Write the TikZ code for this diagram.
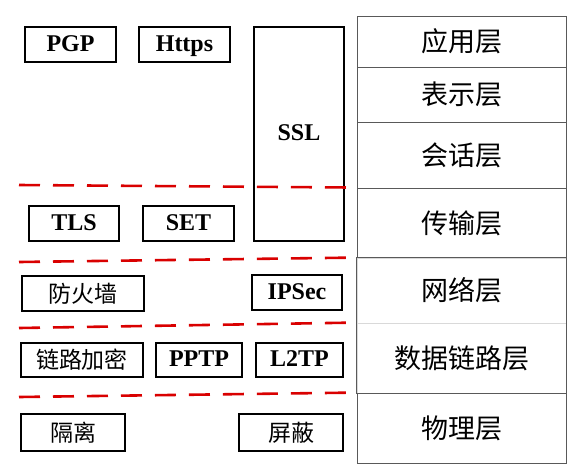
\documentclass[tikz,border=0pt]{standalone}
\usepackage{fontspec}
\setmainfont{Liberation Serif}
\newfontfamily\cjk{Noto Sans CJK SC}
\begin{document}
\begin{tikzpicture}[x=1pt,y=-1pt,
	layer/.style={draw=black!65, line width=0.9pt, minimum width=209pt,
		inner sep=0pt, text height=23pt, text depth=3pt,
		font=\cjk\fontsize{27}{30}\selectfont},
	proto/.style={draw, line width=1.3pt, inner sep=0pt,
		text height=16pt, text depth=3pt,
		font=\bfseries\fontsize{24}{26}\selectfont},
	cnbox/.style={draw, line width=1.3pt, inner sep=0pt,
		text height=20pt, text depth=3pt,
		font=\cjk\fontsize{23}{26}\selectfont},
	sep/.style={red!85!black, line width=2.6pt, dash pattern=on 21pt off 13pt}]
				\useasboundingbox (0,0) rectangle (574,475);
				% OSI stack
				\node[layer, minimum height=51pt] (app) at (461.5,41.5) {应用层};
				\node[layer, minimum height=55pt] (pres) at (461.5,94.5) {表示层};
				\node[layer, minimum height=66pt] (sess) at (461.5,155) {会话层};
				\node[layer, minimum height=70pt] (trans) at (461.5,223) {传输层};
				\node[layer, draw=black!15, minimum height=65pt]
				(net) at (461.5,290.5) {网络层};
				\node[layer, draw=black!15, minimum height=70pt]
				(link) at (461.5,358) {数据链路层};
				\node[layer, minimum height=70pt] (phy) at (461.5,428) {物理层};
				\draw[black!65, line width=0.9pt] (net.north west) rectangle (link.south east);
				% protocols
				\node[proto, minimum width=91pt, minimum height=35pt]
				(pgp) at (70.5,44.5) {PGP};
				\node[proto, minimum width=91pt, minimum height=35pt]
				(https) at (184.5,44.5) {Https};
				\node[proto, minimum width=90pt, minimum height=214pt]
				(ssl) at (299,134) {SSL};
				\node[proto, minimum width=90pt, minimum height=35pt]
				(tls) at (74,223.5) {TLS};
				\node[proto, minimum width=91pt, minimum height=35pt]
				(set) at (188.5,223.5) {SET};
				\node[cnbox, minimum width=122pt, minimum height=35pt]
				(fw) at (83,293.5) {防火墙};
				\node[proto, minimum width=90pt, minimum height=35pt]
				(ipsec) at (297,292.5) {IPSec};
				\node[cnbox, minimum width=122pt, minimum height=34pt]
				(enc) at (82,360) {链路加密};
				\node[proto, minimum width=86pt, minimum height=34pt]
				(pptp) at (199,360) {PPTP};
				\node[proto, minimum width=87pt, minimum height=34pt]
				(l2tp) at (299.5,360) {L2TP};
				\node[cnbox, minimum width=104pt, minimum height=37pt]
				(iso) at (73,432.5) {隔离};
				\node[cnbox, minimum width=104pt, minimum height=37pt]
				(shield) at (291,432.5) {屏蔽};
				% layer borders
				\coordinate (s1) at (19,185);
				\coordinate (s2) at (19,262);
				\coordinate (s3) at (19,328);
				\coordinate (s4) at (19,397);
				\draw[sep] (s1) -- (trans.north west);
				\draw[sep] (s2) -- (net.north west);
				\draw[sep] (s3) -- (link.north west);
				\draw[sep] (s4) -- (phy.north west);
			\end{tikzpicture}
\end{document}
